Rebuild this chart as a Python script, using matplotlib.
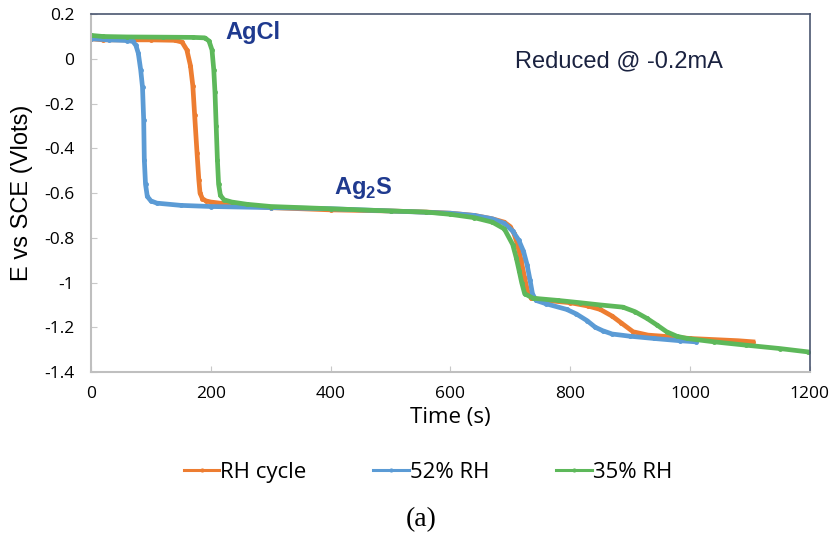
import matplotlib.pyplot as plt
import numpy as np

# chronopotentiometry curves, reduced at -0.2 mA
t_cycle = [0, 20, 60, 100, 140, 152, 160, 166, 170, 173, 177, 180, 182, 186, 192, 200, 215, 250, 300, 400,
           500, 560, 600, 640, 670, 690, 700, 706, 712, 718, 724, 729, 735, 760, 800, 830, 850, 870, 885, 905,
           930, 955, 1000, 1040, 1080, 1105]
e_cycle = [0.09, 0.085, 0.085, 0.085, 0.083, 0.075, 0.04, -0.03, -0.12, -0.25, -0.42, -0.54, -0.60, -0.625,
           -0.635, -0.64, -0.645, -0.655, -0.665, -0.675, -0.68, -0.685, -0.69, -0.70, -0.715, -0.73, -0.75,
           -0.78, -0.83, -0.90, -0.98, -1.04, -1.07, -1.08, -1.09, -1.105, -1.12, -1.15, -1.18, -1.22, -1.235,
           -1.24, -1.25, -1.255, -1.26, -1.265]

t_52 = [0, 30, 60, 70, 75, 79, 83, 86, 88, 89, 91, 94, 100, 110, 150, 200, 300, 400, 500, 600, 640, 670,
        690, 704, 714, 722, 728, 733, 737, 743, 760, 794, 810, 828, 842, 854, 870, 900, 940, 983, 1010]
e_52 = [0.09, 0.085, 0.082, 0.078, 0.06, 0.025, -0.05, -0.127, -0.275, -0.45, -0.56, -0.615, -0.635, -0.645,
        -0.655, -0.66, -0.665, -0.67, -0.68, -0.69, -0.70, -0.715, -0.735, -0.77, -0.81, -0.86, -0.92, -0.99,
        -1.05, -1.08, -1.095, -1.12, -1.14, -1.17, -1.20, -1.215, -1.23, -1.24, -1.25, -1.26, -1.265]

t_35 = [0, 20, 60, 120, 170, 190, 197, 202, 205, 207, 209, 211, 213, 216, 222, 235, 260, 300, 400, 500, 560,
        600, 640, 670, 690, 704, 710, 715, 719, 724, 738, 780, 816, 850, 888, 908, 928, 945, 961, 978, 995,
        1040, 1094, 1150, 1197]
e_35 = [0.105, 0.1, 0.098, 0.097, 0.096, 0.094, 0.08, 0.04, -0.05, -0.15, -0.3, -0.45, -0.56, -0.61, -0.63,
        -0.64, -0.65, -0.66, -0.67, -0.68, -0.685, -0.695, -0.71, -0.73, -0.76, -0.83, -0.89, -0.95, -1.0, -1.05,
        -1.07, -1.08, -1.09, -1.10, -1.11, -1.13, -1.16, -1.19, -1.22, -1.24, -1.25, -1.265, -1.28, -1.295, -1.31]

x_ticks = [0, 200, 400, 600, 800, 1000, 1200]
y_ticks = [0.2, 0, -0.2, -0.4, -0.6, -0.8, -1, -1.2, -1.4]

orange = '#ED7D31'
blue = '#5B9BD5'
green = '#5DB85A'
navy = '#1F3A8F'

fig = plt.figure(figsize=(8.31, 5.33), dpi=100)
ax = fig.add_axes([0.1095, 0.302, 0.865, 0.6715])

ax.plot(t_cycle, e_cycle, color=orange, lw=3.4, marker='o', ms=2.5, label='RH cycle')
ax.plot(t_52, e_52, color=blue, lw=3.4, marker='o', ms=2.5, label='52% RH')
ax.plot(t_35, e_35, color=green, lw=3.4, marker='o', ms=2.5, label='35% RH')

ax.set_xlim(0, 1200)
ax.set_ylim(-1.4, 0.2)
ax.set_xticks(x_ticks)
ax.set_yticks(y_ticks)
ax.set_xticklabels([str(v) for v in x_ticks], family='Open Sans', fontsize=12.5)
ax.set_yticklabels(['0.2', '0', '-0.2', '-0.4', '-0.6', '-0.8', '-1', '-1.2', '-1.4'],
                   family='Open Sans', fontsize=12.5)
ax.tick_params(direction='in', length=4, color='#C8C8C8', pad=10)
ax.tick_params(axis='y', pad=12)

for side in ['left', 'bottom']:
    ax.spines[side].set_color('#BFBFBF')
    ax.spines[side].set_linewidth(1.5)
for side in ['top', 'right']:
    ax.spines[side].set_color('#4A5670')
    ax.spines[side].set_linewidth(1.2)

ax.set_xlabel('Time (s)', family='Open Sans', fontsize=16, labelpad=4)
ax.set_ylabel('E vs SCE (Vlots)', family='Liberation Sans', fontsize=17, labelpad=8)

ax.text(224, 0.065, 'AgCl', color=navy, fontsize=17, fontweight='bold', family='Liberation Sans', va='bottom')
ax.text(405, -0.635, 'Ag$_\\mathregular{2}$S', color=navy, fontsize=17, fontweight='bold',
        family='Liberation Sans', va='bottom')
ax.text(708, -0.06, 'Reduced @ -0.2mA', color='#1A2240', fontsize=17, family='Liberation Sans', va='bottom')

leg = fig.legend(loc='center', bbox_to_anchor=(0.515, 0.113), ncol=3, frameon=False,
                 prop={'family': 'Open Sans', 'size': 16}, handlelength=1.6, handletextpad=0.05,
                 columnspacing=3.0)
for line in leg.get_lines():
    line.set_linewidth(2.2)
    line.set_markersize(2)

fig.text(0.507, 0.012, '(a)', family='Liberation Serif', fontsize=20, ha='center')

fig.savefig('out.png', dpi=100)
